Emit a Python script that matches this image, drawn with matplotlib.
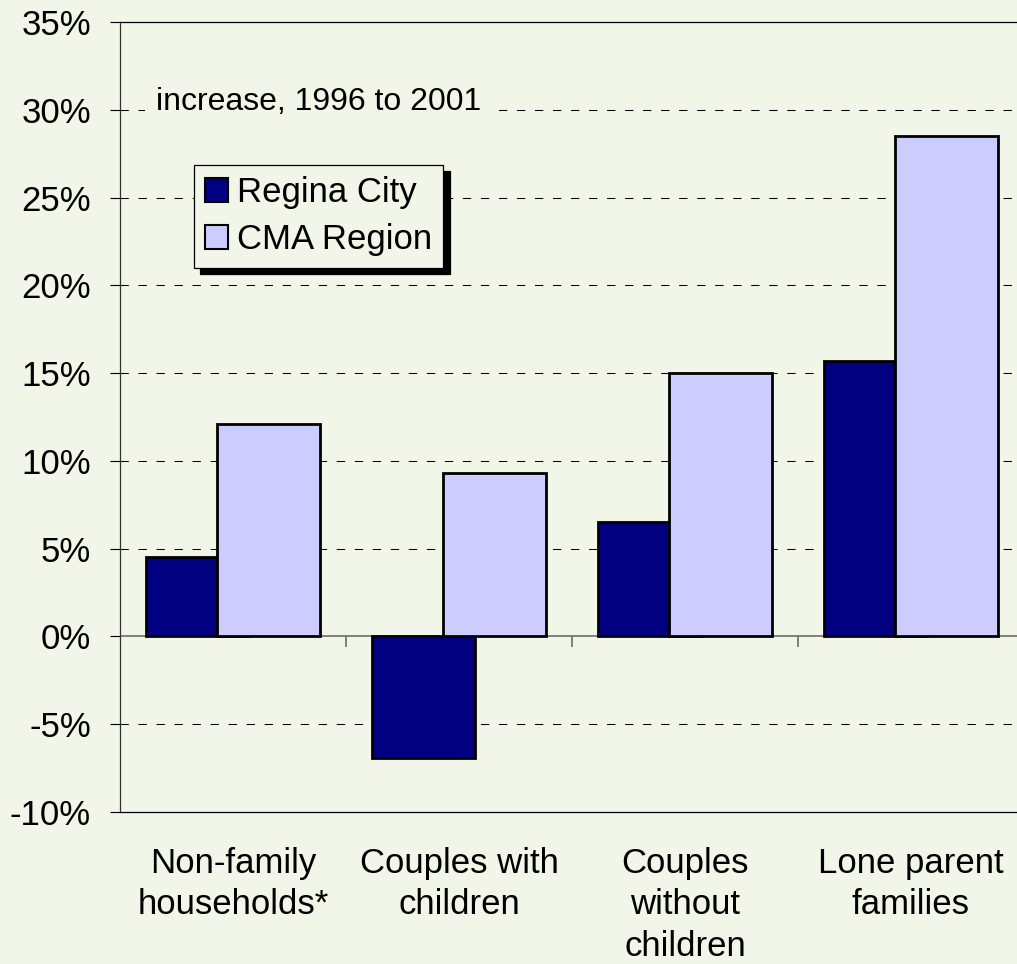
"""Household growth chart: Regina City vs CMA region, 1996 to 2001."""

import matplotlib
matplotlib.use("Agg")
import matplotlib.pyplot as plt
import numpy as np
from matplotlib.patches import Patch
from matplotlib.ticker import FuncFormatter


categories = ["Non-family\nhouseholds*", "Couples with\nchildren", "Couples\nwithout\nchildren", "Lone parent\nfamilies"]
regina_city = [4.5, -6.9, 6.5, 15.7]
cma_region = [12.1, 9.3, 15.0, 28.5]
series_names = ["Regina City", "CMA Region"]
y_ticks = [-10, -5, 0, 5, 10, 15, 20, 25, 30, 35]

BG = "#F1F6E9"
NAVY = "#000080"
LILAC = "#CCCCFF"

plt.rcParams["font.family"] = ["Liberation Sans", "DejaVu Sans"]
plt.rcParams["font.size"] = 25

fig = plt.figure(figsize=(10.17, 9.64), dpi=100, facecolor=BG)
W, H = 1017, 964
ax = fig.add_axes([120 / W, 1 - 812 / H, 904 / W, 790 / H])
ax.set_facecolor(BG)

xs = np.arange(len(categories))
width = 0.456
offset = 0.159
ax.bar(xs - offset, regina_city, width, color=NAVY, edgecolor="black", linewidth=2, zorder=3)
ax.bar(xs + offset, cma_region, width, color=LILAC, edgecolor="black", linewidth=2, zorder=4)

ax.set_xlim(-0.5, len(categories) - 0.5)
ax.set_ylim(-10, 35)
ax.set_yticks(y_ticks)
ax.yaxis.set_major_formatter(FuncFormatter(lambda v, _: f"{v:.0f}%"))
ax.tick_params(axis="y", direction="out", length=7, width=0.8, pad=14, color="black")

ax.set_xticks(xs)
ax.set_xticklabels(categories, linespacing=1.33, va="top")
ax.tick_params(axis="x", length=0, pad=25)

# dashed gridlines, skipping the solid top/bottom frame
for v in y_ticks[1:-1]:
    if v == 0:
        continue
    ax.axhline(v, color="black", lw=0.75, ls=(0, (8, 9.3)), zorder=1)

# zero line with category separators
ax.axhline(0, color="#6E6E6E", lw=1.2, zorder=2)
ax.vlines(np.arange(len(categories)) - 0.5, -0.6, 0, color="#6E6E6E", lw=1.2, zorder=2)

ax.spines["right"].set_visible(False)
ax.spines["top"].set_linewidth(0.9)
ax.spines["bottom"].set_linewidth(0.9)
ax.spines["left"].set_linewidth(0.9)
ax.spines["left"].set_color("#333333")

fig.text(156 / W, 1 - 102 / H, "increase, 1996 to 2001", va="center", ha="left", fontsize=23,
         bbox=dict(boxstyle="square,pad=0.35", facecolor=BG, edgecolor="none"), zorder=5)

handles = [Patch(facecolor=NAVY, edgecolor="black", linewidth=1.5),
           Patch(facecolor=LILAC, edgecolor="black", linewidth=1.5)]
leg = fig.legend(handles, series_names, loc="upper left",
                 bbox_to_anchor=(194 / W, 1 - 165 / H), fancybox=False,
                 shadow={"ox": 4.5, "oy": -4.5, "color": "black", "alpha": 1},
                 facecolor=BG, edgecolor="black", framealpha=1,
                 handlelength=0.65, handleheight=0.7, handletextpad=0.25,
                 borderpad=0.33, labelspacing=0.4, borderaxespad=0)
leg.get_frame().set_linewidth(0.9)

fig.savefig("out.png", dpi=100, facecolor=BG)
